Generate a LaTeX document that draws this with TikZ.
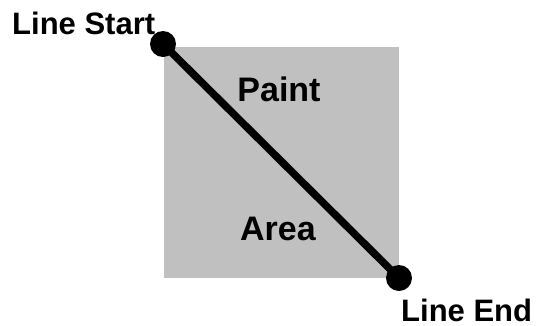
\documentclass[tikz,border=0pt]{standalone}
\usepackage{fontspec}
\setmainfont{Liberation Sans}
\definecolor{paintgray}{RGB}{192,192,192}

\begin{document}
\begin{tikzpicture}[x=1pt, y=-1pt,
    dot/.style={circle, fill=black, inner sep=0pt, minimum size=26pt},
    tag/.style={inner sep=0pt, font=\bfseries\fontsize{31}{36}\selectfont},
    areatag/.style={inner sep=0pt, font=\bfseries\fontsize{34}{40}\selectfont},
  ]
    \useasboundingbox (0,0) rectangle (536,325);
    \fill[paintgray] (164,47) rectangle (399,278);

    \node[areatag, anchor=base] (paint) at (279,101) {Paint};
    \node[areatag, anchor=base] (area) at (278,240) {Area};
    \node[tag, anchor=base west] (startlabel) at (12,34) {Line Start};
    \node[tag, anchor=base west] (endlabel) at (401,321) {Line End};

    \node[dot] (start) at (163,44) {};
    \node[dot] (end) at (399,278) {};
    \draw[line width=7.5pt] (start.center) -- (end.center);
  \end{tikzpicture}
\end{document}
